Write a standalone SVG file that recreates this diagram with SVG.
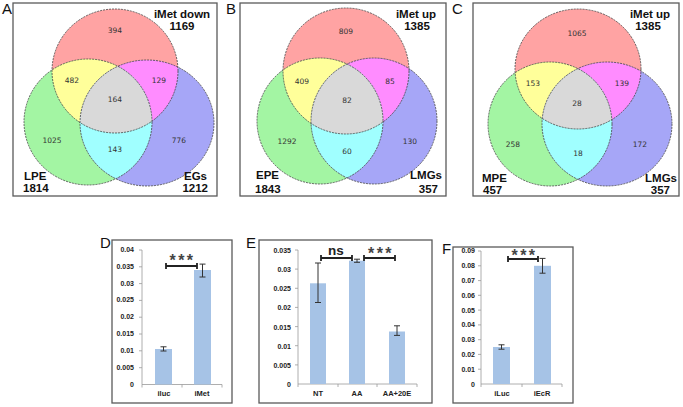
<svg xmlns="http://www.w3.org/2000/svg" width="683" height="407" viewBox="0 0 683 407">
<style>
.box{fill:#fff;stroke:#5a5a5a;stroke-width:1.3}
.plet{font-family:"Liberation Sans",Arial,sans-serif;font-size:15px;fill:#111}
.num{font-family:"DejaVu Sans",sans-serif;font-size:7.5px;fill:#333;text-anchor:middle}
.lab{font-family:"Liberation Sans",Arial,sans-serif;font-size:11.5px;font-weight:bold;fill:#111}
.edge{fill:none;stroke:#444;stroke-width:0.8;stroke-dasharray:2 1}
.r{fill:#ffa3a3}.g{fill:#a3f5a3}.b{fill:#a6a6f7}.y{fill:#ffff9a}.m{fill:#ff8cff}.c{fill:#a0ffff}.k{fill:#d9d9d9}
.tick{font-family:"Liberation Sans",Arial,sans-serif;font-size:7px;font-weight:bold;fill:#222;text-anchor:end}
.cat{font-family:"Liberation Sans",Arial,sans-serif;font-size:7.5px;font-weight:bold;fill:#222;text-anchor:middle}
.axis{stroke:#999;stroke-width:0.8;fill:none}
.bar{fill:#a6c3e6}
.err{stroke:#333;stroke-width:1;fill:none}
.sig{stroke:#222;stroke-width:1.8;fill:none}
.star{font-family:"Liberation Sans",Arial,sans-serif;font-size:16px;font-weight:bold;fill:#444;text-anchor:middle;letter-spacing:2.5px}
.ns{font-family:"Liberation Sans",Arial,sans-serif;font-size:13.5px;font-weight:bold;fill:#222;text-anchor:middle}
</style>
<defs>
<clipPath id="aR"><ellipse cx="115" cy="71" rx="63" ry="62"/></clipPath>
<clipPath id="aG"><ellipse cx="88" cy="122" rx="64" ry="63"/></clipPath>
<clipPath id="bR"><circle cx="346" cy="71" r="63"/></clipPath>
<clipPath id="bG"><circle cx="320" cy="121" r="63"/></clipPath>
<clipPath id="cR"><ellipse cx="578" cy="69" rx="63" ry="60"/></clipPath>
<clipPath id="cG"><ellipse cx="550" cy="124" rx="62" ry="62"/></clipPath>
</defs>

<g id="panelA">
<rect class="box" x="13" y="3" width="204" height="193"/>
<text class="plet" x="2" y="14">A</text>
<ellipse class="r" cx="115" cy="71" rx="63" ry="62"/>
<ellipse class="g" cx="88" cy="122" rx="64" ry="63"/>
<ellipse class="b" cx="147" cy="123" rx="67" ry="63"/>
<ellipse class="y" cx="88" cy="122" rx="64" ry="63" clip-path="url(#aR)"/>
<ellipse class="m" cx="147" cy="123" rx="67" ry="63" clip-path="url(#aR)"/>
<ellipse class="c" cx="147" cy="123" rx="67" ry="63" clip-path="url(#aG)"/>
<g clip-path="url(#aR)"><ellipse class="k" cx="147" cy="123" rx="67" ry="63" clip-path="url(#aG)"/></g>
<ellipse class="edge" cx="115" cy="71" rx="63" ry="62"/>
<ellipse class="edge" cx="88" cy="122" rx="64" ry="63"/>
<ellipse class="edge" cx="147" cy="123" rx="67" ry="63"/>
<text class="num" x="115" y="33">394</text>
<text class="num" x="72" y="83">482</text>
<text class="num" x="159" y="83">129</text>
<text class="num" x="115" y="102">164</text>
<text class="num" x="52" y="143">1025</text>
<text class="num" x="179" y="143">776</text>
<text class="num" x="115" y="152">143</text>
<text class="lab" x="182" y="18" text-anchor="middle">iMet down</text>
<text class="lab" x="182" y="30" text-anchor="middle">1169</text>
<text class="lab" x="24" y="180">LPE</text>
<text class="lab" x="23" y="192">1814</text>
<text class="lab" x="207" y="180" text-anchor="end">EGs</text>
<text class="lab" x="208" y="192" text-anchor="end">1212</text>
</g>

<g id="panelB">
<rect class="box" x="240" y="3" width="206" height="193"/>
<text class="plet" x="226" y="14">B</text>
<circle class="r" cx="346" cy="71" r="63"/>
<circle class="g" cx="320" cy="121" r="63"/>
<circle class="b" cx="374" cy="121" r="63"/>
<circle class="y" cx="320" cy="121" r="63" clip-path="url(#bR)"/>
<circle class="m" cx="374" cy="121" r="63" clip-path="url(#bR)"/>
<circle class="c" cx="374" cy="121" r="63" clip-path="url(#bG)"/>
<g clip-path="url(#bR)"><circle class="k" cx="374" cy="121" r="63" clip-path="url(#bG)"/></g>
<circle class="edge" cx="346" cy="71" r="63"/>
<circle class="edge" cx="320" cy="121" r="63"/>
<circle class="edge" cx="374" cy="121" r="63"/>
<text class="num" x="346" y="34">809</text>
<text class="num" x="302" y="84">409</text>
<text class="num" x="390" y="84">85</text>
<text class="num" x="347" y="103">82</text>
<text class="num" x="287" y="144">1292</text>
<text class="num" x="410" y="144">130</text>
<text class="num" x="347" y="154">60</text>
<text class="lab" x="416" y="18" text-anchor="middle">iMet up</text>
<text class="lab" x="417" y="30" text-anchor="middle">1385</text>
<text class="lab" x="256" y="179">EPE</text>
<text class="lab" x="255" y="193">1843</text>
<text class="lab" x="442" y="179" text-anchor="end">LMGs</text>
<text class="lab" x="438" y="193" text-anchor="end">357</text>
</g>

<g id="panelC">
<rect class="box" x="473" y="3" width="206" height="193"/>
<text class="plet" x="452" y="14">C</text>
<ellipse class="r" cx="578" cy="69" rx="63" ry="60"/>
<ellipse class="g" cx="550" cy="124" rx="62" ry="62"/>
<ellipse class="b" cx="607" cy="124" rx="65" ry="62"/>
<ellipse class="y" cx="550" cy="124" rx="62" ry="62" clip-path="url(#cR)"/>
<ellipse class="m" cx="607" cy="124" rx="65" ry="62" clip-path="url(#cR)"/>
<ellipse class="c" cx="607" cy="124" rx="65" ry="62" clip-path="url(#cG)"/>
<g clip-path="url(#cR)"><ellipse class="k" cx="607" cy="124" rx="65" ry="62" clip-path="url(#cG)"/></g>
<ellipse class="edge" cx="578" cy="69" rx="63" ry="60"/>
<ellipse class="edge" cx="550" cy="124" rx="62" ry="62"/>
<ellipse class="edge" cx="607" cy="124" rx="65" ry="62"/>
<text class="num" x="577" y="36">1065</text>
<text class="num" x="533" y="86">153</text>
<text class="num" x="622" y="86">139</text>
<text class="num" x="577" y="106">28</text>
<text class="num" x="513" y="147">258</text>
<text class="num" x="640" y="147">172</text>
<text class="num" x="578" y="156">18</text>
<text class="lab" x="650" y="18" text-anchor="middle">iMet up</text>
<text class="lab" x="648" y="30" text-anchor="middle">1385</text>
<text class="lab" x="482" y="182">MPE</text>
<text class="lab" x="483" y="194">457</text>
<text class="lab" x="677" y="182" text-anchor="end">LMGs</text>
<text class="lab" x="670" y="194" text-anchor="end">357</text>
</g>

<g id="panelD">
<rect class="box" x="112" y="240" width="120" height="163"/>
<text class="plet" x="100" y="248">D</text>
<g class="tick">
<text x="134" y="387">0</text><text x="134" y="370">0.005</text><text x="134" y="353">0.01</text><text x="134" y="336">0.015</text><text x="134" y="319">0.02</text><text x="134" y="302">0.025</text><text x="134" y="286">0.03</text><text x="134" y="269">0.035</text><text x="134" y="252">0.04</text>
</g>
<path class="axis" d="M142,250V384.5H222M139,250h3M139,266.8h3M139,283.6h3M139,300.4h3M139,317.2h3M139,334h3M139,350.8h3M139,367.7h3M142,384.5v3M182,384.5v3M222,384.5v3"/>
<rect class="bar" x="155" y="349" width="17" height="35.5"/>
<rect class="bar" x="194" y="270" width="17" height="114.5"/>
<path class="err" d="M163.5,346.8V351M160.5,346.8h6M160.5,351h6M202.5,264.1V277M199.5,264.1h6M199.5,277h6"/>
<path class="sig" d="M166,266H197M166,263v6M197,263v6"/>
<text class="star" x="182.5" y="266">***</text>
<text class="cat" x="164" y="396">iluc</text>
<text class="cat" x="202" y="396">iMet</text>
</g>

<g id="panelE">
<rect class="box" x="259" y="240" width="173" height="163"/>
<text class="plet" x="246" y="248">E</text>
<g class="tick">
<text x="291" y="387">0</text><text x="291" y="368">0.005</text><text x="291" y="349">0.01</text><text x="291" y="330">0.015</text><text x="291" y="310">0.02</text><text x="291" y="291">0.025</text><text x="291" y="272">0.03</text><text x="291" y="253">0.035</text>
</g>
<path class="axis" d="M298,250V384H417M295,250h3M295,269.1h3M295,288.3h3M295,307.4h3M295,326.6h3M295,345.7h3M295,364.9h3M298,384v3M338,384v3M377,384v3M417,384v3"/>
<rect class="bar" x="310" y="283.3" width="16" height="100.7"/>
<rect class="bar" x="349" y="260.7" width="16" height="123.3"/>
<rect class="bar" x="389" y="331.5" width="16" height="52.5"/>
<path class="err" d="M318,263V302.5M315,263h6M315,302.5h6M357,259.2V262.3M354,259.2h6M354,262.3h6M397,325.8V335.4M394,325.8h6M394,335.4h6"/>
<path class="sig" d="M321,258H352M321,255v6M352,255v6M364,258H395M364,255v6M395,255v6"/>
<text class="ns" x="336" y="255">ns</text>
<text class="star" x="381" y="259">***</text>
<text class="cat" x="318" y="396">NT</text>
<text class="cat" x="357" y="396">AA</text>
<text class="cat" x="397" y="396">AA+20E</text>
</g>

<g id="panelF">
<rect class="box" x="453" y="247" width="120" height="156"/>
<text class="plet" x="442" y="254">F</text>
<g class="tick">
<text x="475" y="387">0</text><text x="475" y="372">0.01</text><text x="475" y="357">0.02</text><text x="475" y="342">0.03</text><text x="475" y="327">0.04</text><text x="475" y="313">0.05</text><text x="475" y="298">0.06</text><text x="475" y="283">0.07</text><text x="475" y="268">0.08</text><text x="475" y="253">0.09</text>
</g>
<path class="axis" d="M481,251V384H562M478,251h3M478,265.8h3M478,280.6h3M478,295.3h3M478,310.1h3M478,324.9h3M478,339.7h3M478,354.4h3M478,369.2h3M481,384v3M522,384v3M562,384v3"/>
<rect class="bar" x="493" y="347" width="17" height="37"/>
<rect class="bar" x="534" y="265.8" width="17" height="118.2"/>
<path class="err" d="M501.5,344.8V349.2M498.5,344.8h6M498.5,349.2h6M542.5,258.4V273.2M539.5,258.4h6M539.5,273.2h6"/>
<path class="sig" d="M508,259H538M508,256v6M538,256v6"/>
<text class="star" x="524.5" y="261">***</text>
<text class="cat" x="502" y="396">iLuc</text>
<text class="cat" x="542" y="396">iEcR</text>
</g>
</svg>
